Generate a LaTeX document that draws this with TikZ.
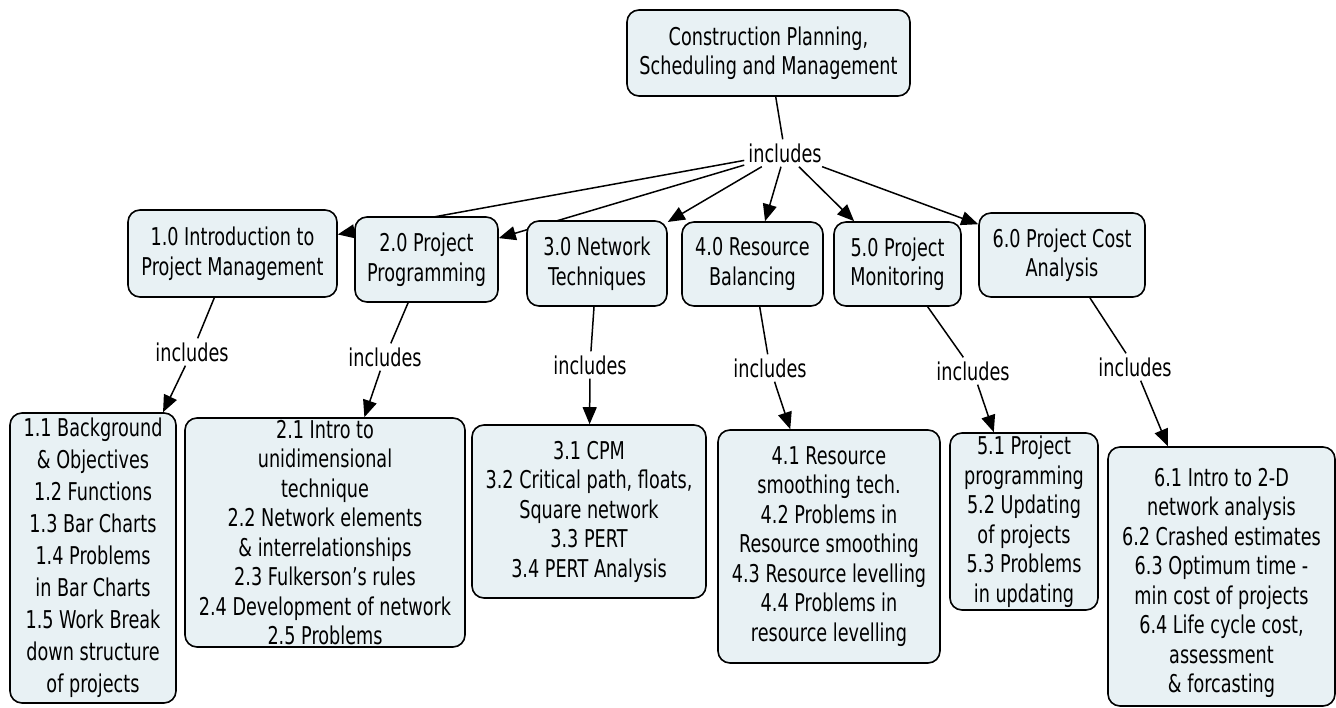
\documentclass[tikz,border=0pt]{standalone}
\usepackage{fontspec}
\setmainfont{DejaVu Sans}[FakeStretch=0.72]
\usetikzlibrary{arrows.meta,backgrounds}
\definecolor{boxfill}{RGB}{232,241,244}
\tikzset{
  box/.style={draw=black, line width=1.6pt, fill=boxfill, rounded corners=12pt,
    align=center, inner sep=0pt, font=\fontsize{24.5}{29.5}\selectfont},
  lbl/.style={inner sep=4pt, font=\fontsize{24.5}{29.5}\selectfont},
  conn/.style={line width=1.5pt, black},
  arr/.style={line width=1.5pt, black, -{Triangle[length=17pt,width=14pt]}}
}
\begin{document}
\begin{tikzpicture}[x=1pt,y=-1pt]
\useasboundingbox (0,0) rectangle (1336,707);
% top
\node[box, minimum width=283pt, minimum height=86pt] (top) at (768.5,53) {Construction Planning,\\Scheduling and Management};
\node[lbl] (inc0) at (785,153) {includes};
% level 1
\node[box, minimum width=209pt, minimum height=87pt] (b1) at (232.5,253.5) {1.0 Introduction to\\Project Management};
\node[box, minimum width=143pt, minimum height=85pt] (b2) at (426.5,259.5) {2.0 Project\\Programming};
\node[box, minimum width=140pt, minimum height=85pt] (b3) at (597,263.5) {3.0 Network\\Techniques};
\node[box, minimum width=141pt, minimum height=84pt] (b4) at (752.5,264) {4.0 Resource\\Balancing};
\node[box, minimum width=127pt, minimum height=84pt] (b5) at (897.5,264) {5.0 Project\\Monitoring};
\node[box, minimum width=166pt, minimum height=84pt] (b6) at (1062,255) {6.0 Project Cost\\Analysis};
% labels level 1
\node[lbl] (i1) at (192,352) {includes};
\node[lbl] (i2) at (385,357) {includes};
\node[lbl] (i3) at (590,365) {includes};
\node[lbl] (i4) at (770,368) {includes};
\node[lbl] (i5) at (973,371) {includes};
\node[lbl] (i6) at (1135,367) {includes};
% level 2
\node[box, minimum width=166pt, minimum height=290pt, font=\fontsize{24.5}{32}\selectfont] (c1) at (93,558) {1.1 Background\\\& Objectives\\1.2 Functions\\1.3 Bar Charts\\1.4 Problems\\in Bar Charts\\1.5 Work Break\\down structure\\of projects};
\node[box, minimum width=280pt, minimum height=229pt] (c2) at (325,532.5) {2.1 Intro to\\unidimensional\\technique\\2.2 Network elements\\\& interrelationships\\2.3 Fulkerson{\char"0027}s rules\\2.4 Development of network\\2.5 Problems};
\node[box, minimum width=234pt, minimum height=173pt] (c3) at (589,511.5) {3.1 CPM\\3.2 Critical path, floats,\\Square network\\3.3 PERT\\3.4 PERT Analysis};
\node[box, minimum width=222pt, minimum height=233pt] (c4) at (829,546.5) {4.1 Resource\\smoothing tech.\\4.2 Problems in\\Resource smoothing\\4.3 Resource levelling\\4.4 Problems in\\resource levelling};
\node[box, minimum width=148pt, minimum height=177pt] (c5) at (1024,521.5) {5.1 Project\\programming\\5.2 Updating\\of projects\\5.3 Problems\\in updating};
\node[box, minimum width=227pt, minimum height=259pt] (c6) at (1221.5,576.5) {\rule{0pt}{31pt}6.1 Intro to 2-D\\network analysis\\6.2 Crashed estimates\\6.3 Optimum time -\\min cost of projects\\6.4 Life cycle cost,\\assessment\\\& forcasting};
% connectors
\begin{pgfonlayer}{background}
\draw[conn] (top) -- (inc0);
\foreach \t in {b1,b2,b3,b4,b5,b6} { \draw[arr] (inc0) -- (\t); }
\foreach \n in {1,...,6} {
  \draw[conn] (b\n) -- (i\n);
  \draw[arr] (i\n) -- (c\n);
}
\end{pgfonlayer}
\end{tikzpicture}
\end{document}
